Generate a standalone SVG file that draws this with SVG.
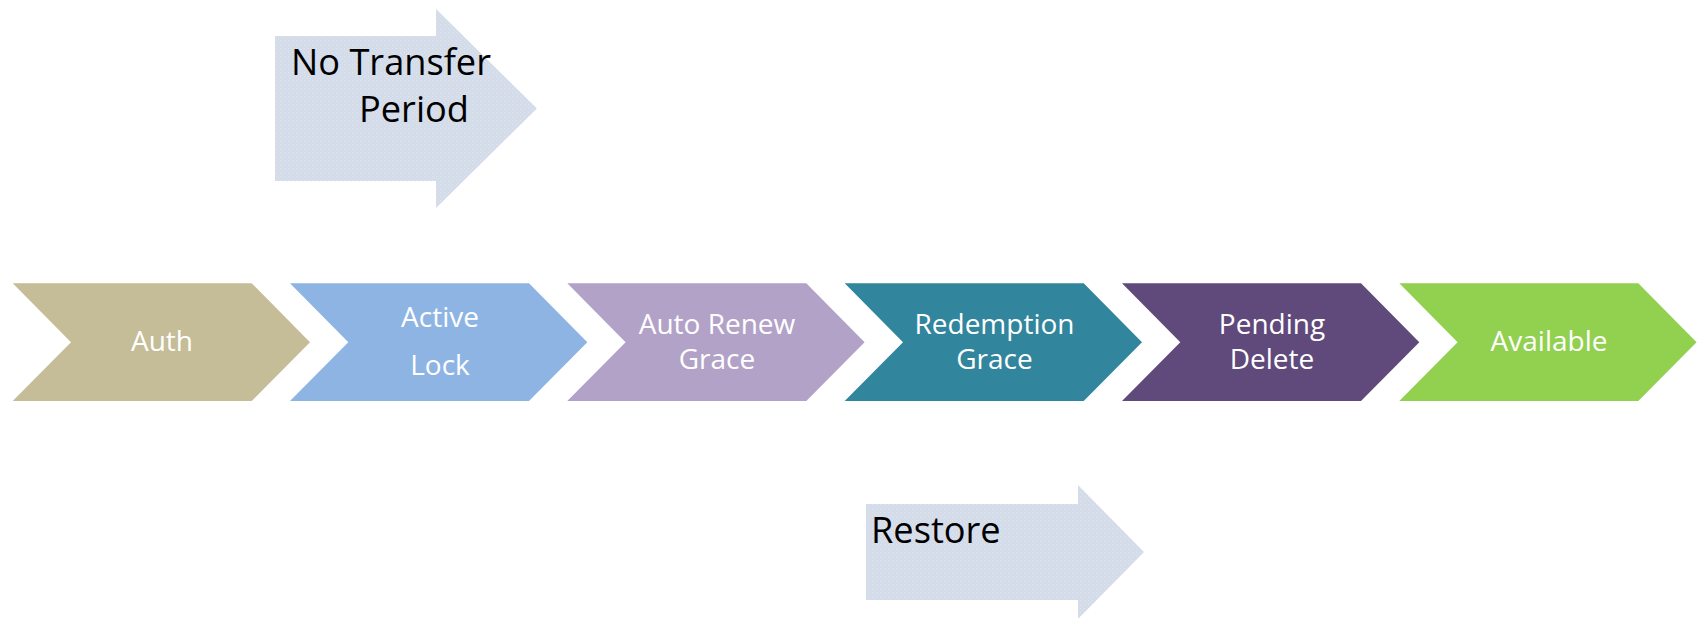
<svg xmlns="http://www.w3.org/2000/svg" width="1702" height="618" viewBox="0 0 1702 618">
<style>
.lbl{font-family:"Open Sans","Liberation Sans",sans-serif;font-size:28px;fill:#ffffff;text-anchor:middle}
.big{font-family:"Open Sans","Liberation Sans",sans-serif;font-size:36.2px;fill:#000000}
.arr{fill:url(#tex)}
</style>
<defs>
<pattern id="tex" width="4" height="4" patternUnits="userSpaceOnUse">
<rect width="4" height="4" fill="#d4dbe9"/>
<rect x="0" y="0" width="1" height="1" fill="#e0e5ef"/>
<rect x="2" y="2" width="1" height="1" fill="#dce2ed"/>
</pattern>
<polygon id="chev" points="0,283.3 239,283.3 297.3,342.2 239,401 0,401 58.3,342.2"/>
</defs>
<rect width="1702" height="618" fill="#ffffff"/>
<g id="no-transfer">
<polygon class="arr" points="275,36 436,36 436,9 537,108.5 436,208 436,181 275,181"/>
<text class="big" x="291" y="75">No Transfer</text>
<text class="big" x="359" y="122">Period</text>
</g>
<g id="auth">
<use href="#chev" x="12.7" fill="#c4bd97"/>
<text class="lbl" x="162" y="351">Auth</text>
</g>
<g id="active-lock">
<use href="#chev" x="290" fill="#8eb4e3"/>
<text class="lbl" x="440" y="327.3">Active</text>
<text class="lbl" x="440" y="375">Lock</text>
</g>
<g id="auto-renew-grace">
<use href="#chev" x="567.3" fill="#b3a2c7"/>
<text class="lbl" x="717" y="333.5">Auto Renew</text>
<text class="lbl" x="717" y="368.5">Grace</text>
</g>
<g id="redemption-grace">
<use href="#chev" x="844.7" fill="#31859c"/>
<text class="lbl" x="994.5" y="334">Redemption</text>
<text class="lbl" x="994.5" y="368.5">Grace</text>
</g>
<g id="pending-delete">
<use href="#chev" x="1122" fill="#604a7b"/>
<text class="lbl" x="1272" y="333.5">Pending</text>
<text class="lbl" x="1272" y="368.5">Delete</text>
</g>
<g id="available">
<use href="#chev" x="1399.3" fill="#92d050"/>
<text class="lbl" x="1549" y="350.5">Available</text>
</g>
<g id="restore">
<polygon class="arr" points="866,504 1078,504 1078,485 1144,552 1078,619 1078,600 866,600"/>
<text class="big" x="871" y="543">Restore</text>
</g>
<g id="connectors"></g>
</svg>
